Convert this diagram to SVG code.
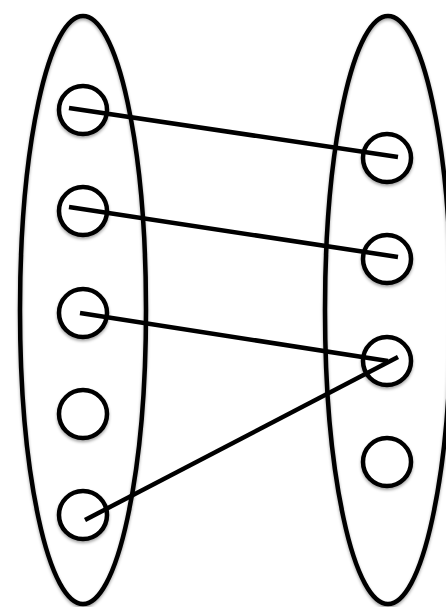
<svg xmlns="http://www.w3.org/2000/svg" width="446" height="607" viewBox="0 0 446 607">
<defs>
<filter id="sh" x="-20%" y="-20%" width="140%" height="140%">
<feDropShadow dx="0" dy="2" stdDeviation="1.5" flood-color="#000" flood-opacity="0.35"/>
</filter>
<style>
.set{fill:none;stroke:#000;stroke-width:4.5;filter:url(#sh)}
.node{fill:#fff;stroke:#000;stroke-width:4.5;filter:url(#sh)}
.edge{stroke:#000;stroke-width:4.5;stroke-linecap:butt;fill:none}
</style>
</defs>
<rect width="446" height="607" fill="#fff"/>
<g id="setA"><ellipse class="set" cx="83" cy="310" rx="63" ry="294"/></g>
<g id="setB"><ellipse class="set" cx="388" cy="310" rx="63" ry="294"/></g>
<g id="a1"><circle class="node" cx="83" cy="110" r="24"/></g>
<g id="a2"><circle class="node" cx="83" cy="211" r="24"/></g>
<g id="a3"><circle class="node" cx="83" cy="313" r="24"/></g>
<g id="a4"><circle class="node" cx="83" cy="414" r="24"/></g>
<g id="a5"><circle class="node" cx="83" cy="515" r="24"/></g>
<g id="b1"><circle class="node" cx="387" cy="158" r="24"/></g>
<g id="b2"><circle class="node" cx="387" cy="259" r="24"/></g>
<g id="b3"><circle class="node" cx="387" cy="361" r="24"/></g>
<g id="b4"><circle class="node" cx="387" cy="462" r="24"/></g>
<g id="edges">
<line class="edge" x1="69" y1="108" x2="398" y2="157"/>
<line class="edge" x1="69" y1="207" x2="398" y2="257"/>
<line class="edge" x1="80" y1="313" x2="388" y2="361"/>
<line class="edge" x1="85" y1="520" x2="398" y2="357"/>
</g>
</svg>
